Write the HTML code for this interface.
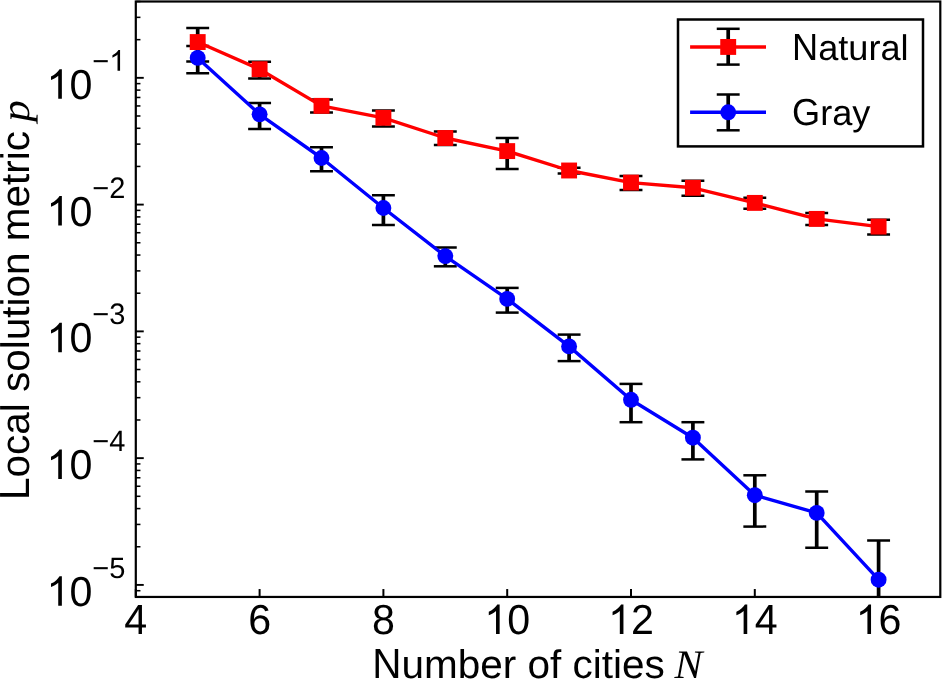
<!DOCTYPE html><html><head><meta charset="utf-8"><style>
html,body{margin:0;padding:0;background:#fff;}
body{width:942px;height:679px;overflow:hidden;}
svg{display:block;will-change:transform;}
text{font-family:"Liberation Sans",sans-serif;fill:#000;text-rendering:geometricPrecision;}
.ser{font-family:"Liberation Serif",serif;font-style:italic;}
</style></head><body>
<svg width="942" height="679" viewBox="0 0 942 679">
<rect x="0" y="0" width="942" height="679" fill="#fff"/>
<defs><clipPath id="ax"><rect x="135.80" y="1.50" width="804.50" height="595.45"/></clipPath></defs>
<line x1="135.80" y1="584.91" x2="143.75" y2="584.91" stroke="#000" stroke-width="1.9"/><line x1="135.80" y1="458.14" x2="143.75" y2="458.14" stroke="#000" stroke-width="1.9"/><line x1="135.80" y1="331.37" x2="143.75" y2="331.37" stroke="#000" stroke-width="1.9"/><line x1="135.80" y1="204.60" x2="143.75" y2="204.60" stroke="#000" stroke-width="1.9"/><line x1="135.80" y1="77.83" x2="143.75" y2="77.83" stroke="#000" stroke-width="1.9"/><line x1="135.80" y1="590.71" x2="140.45" y2="590.71" stroke="#000" stroke-width="1.55"/><line x1="135.80" y1="546.75" x2="140.45" y2="546.75" stroke="#000" stroke-width="1.55"/><line x1="135.80" y1="524.43" x2="140.45" y2="524.43" stroke="#000" stroke-width="1.55"/><line x1="135.80" y1="508.59" x2="140.45" y2="508.59" stroke="#000" stroke-width="1.55"/><line x1="135.80" y1="496.30" x2="140.45" y2="496.30" stroke="#000" stroke-width="1.55"/><line x1="135.80" y1="486.26" x2="140.45" y2="486.26" stroke="#000" stroke-width="1.55"/><line x1="135.80" y1="477.78" x2="140.45" y2="477.78" stroke="#000" stroke-width="1.55"/><line x1="135.80" y1="470.43" x2="140.45" y2="470.43" stroke="#000" stroke-width="1.55"/><line x1="135.80" y1="463.94" x2="140.45" y2="463.94" stroke="#000" stroke-width="1.55"/><line x1="135.80" y1="419.98" x2="140.45" y2="419.98" stroke="#000" stroke-width="1.55"/><line x1="135.80" y1="397.66" x2="140.45" y2="397.66" stroke="#000" stroke-width="1.55"/><line x1="135.80" y1="381.82" x2="140.45" y2="381.82" stroke="#000" stroke-width="1.55"/><line x1="135.80" y1="369.53" x2="140.45" y2="369.53" stroke="#000" stroke-width="1.55"/><line x1="135.80" y1="359.49" x2="140.45" y2="359.49" stroke="#000" stroke-width="1.55"/><line x1="135.80" y1="351.01" x2="140.45" y2="351.01" stroke="#000" stroke-width="1.55"/><line x1="135.80" y1="343.66" x2="140.45" y2="343.66" stroke="#000" stroke-width="1.55"/><line x1="135.80" y1="337.17" x2="140.45" y2="337.17" stroke="#000" stroke-width="1.55"/><line x1="135.80" y1="293.21" x2="140.45" y2="293.21" stroke="#000" stroke-width="1.55"/><line x1="135.80" y1="270.89" x2="140.45" y2="270.89" stroke="#000" stroke-width="1.55"/><line x1="135.80" y1="255.05" x2="140.45" y2="255.05" stroke="#000" stroke-width="1.55"/><line x1="135.80" y1="242.76" x2="140.45" y2="242.76" stroke="#000" stroke-width="1.55"/><line x1="135.80" y1="232.72" x2="140.45" y2="232.72" stroke="#000" stroke-width="1.55"/><line x1="135.80" y1="224.24" x2="140.45" y2="224.24" stroke="#000" stroke-width="1.55"/><line x1="135.80" y1="216.89" x2="140.45" y2="216.89" stroke="#000" stroke-width="1.55"/><line x1="135.80" y1="210.40" x2="140.45" y2="210.40" stroke="#000" stroke-width="1.55"/><line x1="135.80" y1="166.44" x2="140.45" y2="166.44" stroke="#000" stroke-width="1.55"/><line x1="135.80" y1="144.12" x2="140.45" y2="144.12" stroke="#000" stroke-width="1.55"/><line x1="135.80" y1="128.28" x2="140.45" y2="128.28" stroke="#000" stroke-width="1.55"/><line x1="135.80" y1="115.99" x2="140.45" y2="115.99" stroke="#000" stroke-width="1.55"/><line x1="135.80" y1="105.95" x2="140.45" y2="105.95" stroke="#000" stroke-width="1.55"/><line x1="135.80" y1="97.47" x2="140.45" y2="97.47" stroke="#000" stroke-width="1.55"/><line x1="135.80" y1="90.12" x2="140.45" y2="90.12" stroke="#000" stroke-width="1.55"/><line x1="135.80" y1="83.63" x2="140.45" y2="83.63" stroke="#000" stroke-width="1.55"/><line x1="135.80" y1="39.67" x2="140.45" y2="39.67" stroke="#000" stroke-width="1.55"/><line x1="135.80" y1="17.35" x2="140.45" y2="17.35" stroke="#000" stroke-width="1.55"/><line x1="135.80" y1="1.51" x2="140.45" y2="1.51" stroke="#000" stroke-width="1.55"/><line x1="135.80" y1="596.95" x2="135.80" y2="589.05" stroke="#000" stroke-width="2.0"/><line x1="259.60" y1="596.95" x2="259.60" y2="589.05" stroke="#000" stroke-width="2.0"/><line x1="383.40" y1="596.95" x2="383.40" y2="589.05" stroke="#000" stroke-width="2.0"/><line x1="507.20" y1="596.95" x2="507.20" y2="589.05" stroke="#000" stroke-width="2.0"/><line x1="631.00" y1="596.95" x2="631.00" y2="589.05" stroke="#000" stroke-width="2.0"/><line x1="754.80" y1="596.95" x2="754.80" y2="589.05" stroke="#000" stroke-width="2.0"/><line x1="878.60" y1="596.95" x2="878.60" y2="589.05" stroke="#000" stroke-width="2.0"/>
<g clip-path="url(#ax)">
<line x1="197.70" y1="27.95" x2="197.70" y2="61.50" stroke="#000" stroke-width="3.70"/><line x1="187.50" y1="27.95" x2="207.90" y2="27.95" stroke="#000" stroke-width="2.50" stroke-linecap="square"/><line x1="187.50" y1="61.50" x2="207.90" y2="61.50" stroke="#000" stroke-width="2.50" stroke-linecap="square"/><line x1="259.60" y1="61.70" x2="259.60" y2="78.60" stroke="#000" stroke-width="3.70"/><line x1="249.40" y1="61.70" x2="269.80" y2="61.70" stroke="#000" stroke-width="2.50" stroke-linecap="square"/><line x1="249.40" y1="78.60" x2="269.80" y2="78.60" stroke="#000" stroke-width="2.50" stroke-linecap="square"/><line x1="321.50" y1="99.60" x2="321.50" y2="112.60" stroke="#000" stroke-width="3.70"/><line x1="311.30" y1="99.60" x2="331.70" y2="99.60" stroke="#000" stroke-width="2.50" stroke-linecap="square"/><line x1="311.30" y1="112.60" x2="331.70" y2="112.60" stroke="#000" stroke-width="2.50" stroke-linecap="square"/><line x1="383.40" y1="110.50" x2="383.40" y2="126.50" stroke="#000" stroke-width="3.70"/><line x1="373.20" y1="110.50" x2="393.60" y2="110.50" stroke="#000" stroke-width="2.50" stroke-linecap="square"/><line x1="373.20" y1="126.50" x2="393.60" y2="126.50" stroke="#000" stroke-width="2.50" stroke-linecap="square"/><line x1="445.30" y1="131.50" x2="445.30" y2="144.90" stroke="#000" stroke-width="3.70"/><line x1="435.10" y1="131.50" x2="455.50" y2="131.50" stroke="#000" stroke-width="2.50" stroke-linecap="square"/><line x1="435.10" y1="144.90" x2="455.50" y2="144.90" stroke="#000" stroke-width="2.50" stroke-linecap="square"/><line x1="507.20" y1="137.95" x2="507.20" y2="168.90" stroke="#000" stroke-width="3.70"/><line x1="497.00" y1="137.95" x2="517.40" y2="137.95" stroke="#000" stroke-width="2.50" stroke-linecap="square"/><line x1="497.00" y1="168.90" x2="517.40" y2="168.90" stroke="#000" stroke-width="2.50" stroke-linecap="square"/><line x1="569.10" y1="167.70" x2="569.10" y2="173.60" stroke="#000" stroke-width="3.70"/><line x1="558.90" y1="167.70" x2="579.30" y2="167.70" stroke="#000" stroke-width="2.50" stroke-linecap="square"/><line x1="558.90" y1="173.60" x2="579.30" y2="173.60" stroke="#000" stroke-width="2.50" stroke-linecap="square"/><line x1="631.00" y1="176.10" x2="631.00" y2="190.00" stroke="#000" stroke-width="3.70"/><line x1="620.80" y1="176.10" x2="641.20" y2="176.10" stroke="#000" stroke-width="2.50" stroke-linecap="square"/><line x1="620.80" y1="190.00" x2="641.20" y2="190.00" stroke="#000" stroke-width="2.50" stroke-linecap="square"/><line x1="692.90" y1="180.85" x2="692.90" y2="195.75" stroke="#000" stroke-width="3.70"/><line x1="682.70" y1="180.85" x2="703.10" y2="180.85" stroke="#000" stroke-width="2.50" stroke-linecap="square"/><line x1="682.70" y1="195.75" x2="703.10" y2="195.75" stroke="#000" stroke-width="2.50" stroke-linecap="square"/><line x1="754.80" y1="197.85" x2="754.80" y2="208.70" stroke="#000" stroke-width="3.70"/><line x1="744.60" y1="197.85" x2="765.00" y2="197.85" stroke="#000" stroke-width="2.50" stroke-linecap="square"/><line x1="744.60" y1="208.70" x2="765.00" y2="208.70" stroke="#000" stroke-width="2.50" stroke-linecap="square"/><line x1="816.70" y1="213.00" x2="816.70" y2="225.00" stroke="#000" stroke-width="3.70"/><line x1="806.50" y1="213.00" x2="826.90" y2="213.00" stroke="#000" stroke-width="2.50" stroke-linecap="square"/><line x1="806.50" y1="225.00" x2="826.90" y2="225.00" stroke="#000" stroke-width="2.50" stroke-linecap="square"/><line x1="878.60" y1="219.70" x2="878.60" y2="234.40" stroke="#000" stroke-width="3.70"/><line x1="868.40" y1="219.70" x2="888.80" y2="219.70" stroke="#000" stroke-width="2.50" stroke-linecap="square"/><line x1="868.40" y1="234.40" x2="888.80" y2="234.40" stroke="#000" stroke-width="2.50" stroke-linecap="square"/><line x1="197.70" y1="45.90" x2="197.70" y2="73.20" stroke="#000" stroke-width="3.70"/><line x1="187.50" y1="45.90" x2="207.90" y2="45.90" stroke="#000" stroke-width="2.50" stroke-linecap="square"/><line x1="187.50" y1="73.20" x2="207.90" y2="73.20" stroke="#000" stroke-width="2.50" stroke-linecap="square"/><line x1="259.60" y1="102.95" x2="259.60" y2="128.90" stroke="#000" stroke-width="3.70"/><line x1="249.40" y1="102.95" x2="269.80" y2="102.95" stroke="#000" stroke-width="2.50" stroke-linecap="square"/><line x1="249.40" y1="128.90" x2="269.80" y2="128.90" stroke="#000" stroke-width="2.50" stroke-linecap="square"/><line x1="321.50" y1="147.36" x2="321.50" y2="171.20" stroke="#000" stroke-width="3.70"/><line x1="311.30" y1="147.36" x2="331.70" y2="147.36" stroke="#000" stroke-width="2.50" stroke-linecap="square"/><line x1="311.30" y1="171.20" x2="331.70" y2="171.20" stroke="#000" stroke-width="2.50" stroke-linecap="square"/><line x1="383.40" y1="195.30" x2="383.40" y2="225.10" stroke="#000" stroke-width="3.70"/><line x1="373.20" y1="195.30" x2="393.60" y2="195.30" stroke="#000" stroke-width="2.50" stroke-linecap="square"/><line x1="373.20" y1="225.10" x2="393.60" y2="225.10" stroke="#000" stroke-width="2.50" stroke-linecap="square"/><line x1="445.30" y1="247.40" x2="445.30" y2="266.30" stroke="#000" stroke-width="3.70"/><line x1="435.10" y1="247.40" x2="455.50" y2="247.40" stroke="#000" stroke-width="2.50" stroke-linecap="square"/><line x1="435.10" y1="266.30" x2="455.50" y2="266.30" stroke="#000" stroke-width="2.50" stroke-linecap="square"/><line x1="507.20" y1="287.90" x2="507.20" y2="312.60" stroke="#000" stroke-width="3.70"/><line x1="497.00" y1="287.90" x2="517.40" y2="287.90" stroke="#000" stroke-width="2.50" stroke-linecap="square"/><line x1="497.00" y1="312.60" x2="517.40" y2="312.60" stroke="#000" stroke-width="2.50" stroke-linecap="square"/><line x1="569.10" y1="334.60" x2="569.10" y2="361.10" stroke="#000" stroke-width="3.70"/><line x1="558.90" y1="334.60" x2="579.30" y2="334.60" stroke="#000" stroke-width="2.50" stroke-linecap="square"/><line x1="558.90" y1="361.10" x2="579.30" y2="361.10" stroke="#000" stroke-width="2.50" stroke-linecap="square"/><line x1="631.00" y1="383.90" x2="631.00" y2="422.20" stroke="#000" stroke-width="3.70"/><line x1="620.80" y1="383.90" x2="641.20" y2="383.90" stroke="#000" stroke-width="2.50" stroke-linecap="square"/><line x1="620.80" y1="422.20" x2="641.20" y2="422.20" stroke="#000" stroke-width="2.50" stroke-linecap="square"/><line x1="692.90" y1="422.20" x2="692.90" y2="459.40" stroke="#000" stroke-width="3.70"/><line x1="682.70" y1="422.20" x2="703.10" y2="422.20" stroke="#000" stroke-width="2.50" stroke-linecap="square"/><line x1="682.70" y1="459.40" x2="703.10" y2="459.40" stroke="#000" stroke-width="2.50" stroke-linecap="square"/><line x1="754.80" y1="475.30" x2="754.80" y2="526.60" stroke="#000" stroke-width="3.70"/><line x1="744.60" y1="475.30" x2="765.00" y2="475.30" stroke="#000" stroke-width="2.50" stroke-linecap="square"/><line x1="744.60" y1="526.60" x2="765.00" y2="526.60" stroke="#000" stroke-width="2.50" stroke-linecap="square"/><line x1="816.70" y1="491.60" x2="816.70" y2="547.80" stroke="#000" stroke-width="3.70"/><line x1="806.50" y1="491.60" x2="826.90" y2="491.60" stroke="#000" stroke-width="2.50" stroke-linecap="square"/><line x1="806.50" y1="547.80" x2="826.90" y2="547.80" stroke="#000" stroke-width="2.50" stroke-linecap="square"/><line x1="878.60" y1="540.60" x2="878.60" y2="601.95" stroke="#000" stroke-width="3.70"/><line x1="868.40" y1="540.60" x2="888.80" y2="540.60" stroke="#000" stroke-width="2.50" stroke-linecap="square"/>
<polyline points="197.70,42.05 259.60,69.20 321.50,105.85 383.40,117.80 445.30,138.00 507.20,151.10 569.10,170.50 631.00,182.60 692.90,187.80 754.80,202.90 816.70,218.90 878.60,226.60" fill="none" stroke="#ff0000" stroke-width="3.40" stroke-linejoin="round" stroke-linecap="butt"/>
<rect x="189.75" y="34.10" width="15.90" height="15.90" fill="#ff0000"/>
<rect x="251.65" y="61.25" width="15.90" height="15.90" fill="#ff0000"/>
<rect x="313.55" y="97.90" width="15.90" height="15.90" fill="#ff0000"/>
<rect x="375.45" y="109.85" width="15.90" height="15.90" fill="#ff0000"/>
<rect x="437.35" y="130.05" width="15.90" height="15.90" fill="#ff0000"/>
<rect x="499.25" y="143.15" width="15.90" height="15.90" fill="#ff0000"/>
<rect x="561.15" y="162.55" width="15.90" height="15.90" fill="#ff0000"/>
<rect x="623.05" y="174.65" width="15.90" height="15.90" fill="#ff0000"/>
<rect x="684.95" y="179.85" width="15.90" height="15.90" fill="#ff0000"/>
<rect x="746.85" y="194.95" width="15.90" height="15.90" fill="#ff0000"/>
<rect x="808.75" y="210.95" width="15.90" height="15.90" fill="#ff0000"/>
<rect x="870.65" y="218.65" width="15.90" height="15.90" fill="#ff0000"/>
<polyline points="197.70,57.90 259.60,114.35 321.50,158.00 383.40,208.00 445.30,256.10 507.20,298.90 569.10,346.40 631.00,399.80 692.90,437.70 754.80,495.20 816.70,512.90 878.60,579.70" fill="none" stroke="#0000ff" stroke-width="3.40" stroke-linejoin="round" stroke-linecap="butt"/>
<circle cx="197.70" cy="57.90" r="7.95" fill="#0000ff"/>
<circle cx="259.60" cy="114.35" r="7.95" fill="#0000ff"/>
<circle cx="321.50" cy="158.00" r="7.95" fill="#0000ff"/>
<circle cx="383.40" cy="208.00" r="7.95" fill="#0000ff"/>
<circle cx="445.30" cy="256.10" r="7.95" fill="#0000ff"/>
<circle cx="507.20" cy="298.90" r="7.95" fill="#0000ff"/>
<circle cx="569.10" cy="346.40" r="7.95" fill="#0000ff"/>
<circle cx="631.00" cy="399.80" r="7.95" fill="#0000ff"/>
<circle cx="692.90" cy="437.70" r="7.95" fill="#0000ff"/>
<circle cx="754.80" cy="495.20" r="7.95" fill="#0000ff"/>
<circle cx="816.70" cy="512.90" r="7.95" fill="#0000ff"/>
<circle cx="878.60" cy="579.70" r="7.95" fill="#0000ff"/>
</g>
<rect x="135.80" y="1.50" width="804.50" height="595.45" fill="none" stroke="#000" stroke-width="2.20"/>
<rect x="678.00" y="19.50" width="245.00" height="126.90" fill="#fff" stroke="#000" stroke-width="2.5"/>
<line x1="728.20" y1="28.80" x2="728.20" y2="64.60" stroke="#000" stroke-width="3.70"/><line x1="718.00" y1="28.80" x2="738.40" y2="28.80" stroke="#000" stroke-width="2.50" stroke-linecap="square"/><line x1="718.00" y1="64.60" x2="738.40" y2="64.60" stroke="#000" stroke-width="2.50" stroke-linecap="square"/><line x1="690.1" y1="46.95" x2="766.0" y2="46.95" stroke="#ff0000" stroke-width="3.40"/><rect x="720.25" y="39.00" width="15.90" height="15.90" fill="#ff0000"/>
<line x1="728.20" y1="94.50" x2="728.20" y2="130.30" stroke="#000" stroke-width="3.70"/><line x1="718.00" y1="94.50" x2="738.40" y2="94.50" stroke="#000" stroke-width="2.50" stroke-linecap="square"/><line x1="718.00" y1="130.30" x2="738.40" y2="130.30" stroke="#000" stroke-width="2.50" stroke-linecap="square"/><line x1="690.1" y1="112.30" x2="766.0" y2="112.30" stroke="#0000ff" stroke-width="3.40"/><circle cx="728.20" cy="112.30" r="7.95" fill="#0000ff"/>
<text transform="translate(792.00,59.70) scale(1,1.04)" font-size="36.20">N</text><text transform="translate(818.14,59.70) scale(1,0.985)" font-size="36.20">atural</text>
<text transform="translate(792.00,125.00) scale(1,1.04)" font-size="36.20">G</text><text transform="translate(820.16,125.00) scale(1,0.985)" font-size="36.20">ray</text>
<text transform="translate(124.34,634.00) scale(1,1.020)" font-size="41.20">4</text>
<text transform="translate(248.14,634.00) scale(1,1.020)" font-size="41.20">6</text>
<text transform="translate(371.94,634.00) scale(1,1.020)" font-size="41.20">8</text>
<path d="M763 0H583V1147Q518 1085 412.5 1023T223 930V1104Q374 1175 487 1276T647 1466H763V0Z" transform="translate(484.29,634.00) scale(0.02012,-0.02012)" fill="#000"/><text transform="translate(507.20,634.00) scale(1,1.020)" font-size="41.20">0</text>
<path d="M763 0H583V1147Q518 1085 412.5 1023T223 930V1104Q374 1175 487 1276T647 1466H763V0Z" transform="translate(608.09,634.00) scale(0.02012,-0.02012)" fill="#000"/><text transform="translate(631.00,634.00) scale(1,1.020)" font-size="41.20">2</text>
<path d="M763 0H583V1147Q518 1085 412.5 1023T223 930V1104Q374 1175 487 1276T647 1466H763V0Z" transform="translate(731.89,634.00) scale(0.02012,-0.02012)" fill="#000"/><text transform="translate(754.80,634.00) scale(1,1.020)" font-size="41.20">4</text>
<path d="M763 0H583V1147Q518 1085 412.5 1023T223 930V1104Q374 1175 487 1276T647 1466H763V0Z" transform="translate(855.69,634.00) scale(0.02012,-0.02012)" fill="#000"/><text transform="translate(878.60,634.00) scale(1,1.020)" font-size="41.20">6</text>
<path d="M763 0H583V1147Q518 1085 412.5 1023T223 930V1104Q374 1175 487 1276T647 1466H763V0Z" transform="translate(46.51,605.81) scale(0.02012,-0.02012)" fill="#000"/><text transform="translate(69.42,605.81) scale(1,1.020)" font-size="41.20">0</text><text transform="translate(92.34,577.91) scale(1,1.020)" font-size="29.00">−</text><text transform="translate(109.27,577.91) scale(1,1.020)" font-size="29.00">5</text>
<path d="M763 0H583V1147Q518 1085 412.5 1023T223 930V1104Q374 1175 487 1276T647 1466H763V0Z" transform="translate(46.51,479.04) scale(0.02012,-0.02012)" fill="#000"/><text transform="translate(69.42,479.04) scale(1,1.020)" font-size="41.20">0</text><text transform="translate(92.34,451.14) scale(1,1.020)" font-size="29.00">−</text><text transform="translate(109.27,451.14) scale(1,1.020)" font-size="29.00">4</text>
<path d="M763 0H583V1147Q518 1085 412.5 1023T223 930V1104Q374 1175 487 1276T647 1466H763V0Z" transform="translate(46.51,352.27) scale(0.02012,-0.02012)" fill="#000"/><text transform="translate(69.42,352.27) scale(1,1.020)" font-size="41.20">0</text><text transform="translate(92.34,324.37) scale(1,1.020)" font-size="29.00">−</text><text transform="translate(109.27,324.37) scale(1,1.020)" font-size="29.00">3</text>
<path d="M763 0H583V1147Q518 1085 412.5 1023T223 930V1104Q374 1175 487 1276T647 1466H763V0Z" transform="translate(46.51,225.50) scale(0.02012,-0.02012)" fill="#000"/><text transform="translate(69.42,225.50) scale(1,1.020)" font-size="41.20">0</text><text transform="translate(92.34,197.60) scale(1,1.020)" font-size="29.00">−</text><text transform="translate(109.27,197.60) scale(1,1.020)" font-size="29.00">2</text>
<path d="M763 0H583V1147Q518 1085 412.5 1023T223 930V1104Q374 1175 487 1276T647 1466H763V0Z" transform="translate(46.51,98.73) scale(0.02012,-0.02012)" fill="#000"/><text transform="translate(69.42,98.73) scale(1,1.020)" font-size="41.20">0</text><text transform="translate(92.34,70.83) scale(1,1.020)" font-size="29.00">−</text><path d="M763 0H583V1147Q518 1085 412.5 1023T223 930V1104Q374 1175 487 1276T647 1466H763V0Z" transform="translate(109.27,70.83) scale(0.01416,-0.01416)" fill="#000"/>
<text transform="translate(372.20,678.40) scale(1,1.04)" font-size="40.50">N</text><text transform="translate(401.45,678.40) scale(1,0.985)" font-size="40.50">umber of cities</text>
<text class="ser" transform="translate(674.4,678.4) scale(1.035,1)" font-size="40.50">N</text>
<text transform="translate(29.2,500.1) rotate(-90) scale(1,1.04)" font-size="40.50">L</text><text transform="translate(29.2,500.1) rotate(-90) translate(22.52,0) scale(1,0.985)" font-size="40.50">ocal solution metric</text>
<text class="ser" transform="translate(29.2,121.8) rotate(-90) scale(1.07,1)" font-size="40.50">p</text>
</svg></body></html>
